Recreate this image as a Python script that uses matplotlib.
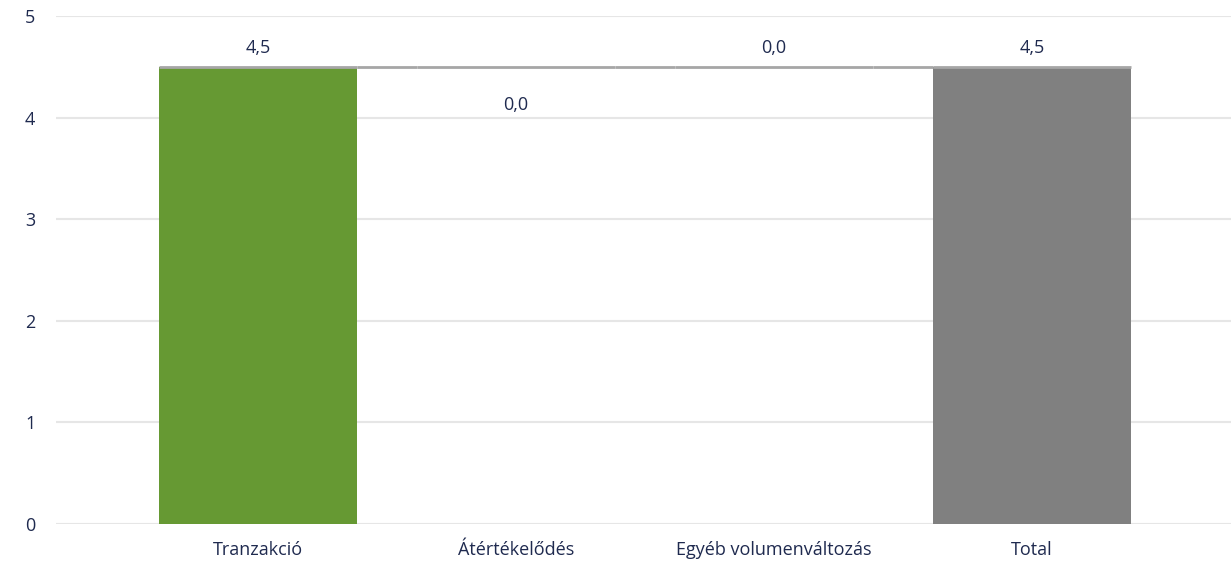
import matplotlib.pyplot as plt

categorias = ['Tranzakció', 'Átértékelődés', 'Egyéb volumenváltozás', 'Total']
valores = [4.5, 0.0, 0.0, 4.5]
rotulos = ['4,5', '0,0', '0,0', '4,5']
cores = ['#669933', 'none', 'none', '#808080']

texto = '#1f2a4f'
plt.rcParams['font.family'] = ['Open Sans', 'DejaVu Sans']

fig = plt.figure(figsize=(12.31, 5.62), dpi=100)
ax = fig.add_axes([56 / 1231, 38 / 562, 1175 / 1231, 508 / 562])

# waterfall: base de cada barra = soma acumulada anterior
base = []
acum = 0
for i, v in enumerate(valores):
    if i == len(valores) - 1:
        base.append(0)
    else:
        base.append(acum)
        acum += v
alturas = [valores[-1] if i == len(valores) - 1 else v for i, v in enumerate(valores)]
topos = [b + h for b, h in zip(base, alturas)]

x = list(range(len(categorias)))
larg = 0.767
ax.bar(x, alturas, bottom=base, width=larg, color=cores, zorder=2)

# linhas de ligacao
for i in range(len(x)):
    ax.hlines(topos[i], x[i] - larg / 2, x[i] + larg / 2, color='#a6a6a6', lw=2, zorder=3)
    if i < len(x) - 1:
        ax.hlines(topos[i], x[i] + larg / 2, x[i + 1] - larg / 2, color='#a6a6a6', lw=2, zorder=3)

for i, r in enumerate(rotulos):
    if i == 1:
        ax.annotate(r, (x[i], topos[i]), xytext=(0, -21), textcoords='offset points',
                    ha='center', va='top', color=texto, fontsize=13)
    else:
        ax.annotate(r, (x[i], topos[i]), xytext=(0, 7), textcoords='offset points',
                    ha='center', va='bottom', color=texto, fontsize=13)

ax.set_xlim(-0.783, 3.771)
ax.set_ylim(0, 5)
ax.set_yticks([0, 1, 2, 3, 4, 5])
ax.set_xticks(x)
ax.set_xticklabels(categorias)
ax.tick_params(length=0, labelcolor=texto, labelsize=13)
ax.tick_params(axis='y', pad=15)
ax.tick_params(axis='x', pad=12)
ax.grid(axis='y', color='#e6e6e6', lw=1.5, zorder=0)
ax.set_axisbelow(True)
for s in ax.spines.values():
    s.set_visible(False)

fig.savefig('out.png', dpi=100)
